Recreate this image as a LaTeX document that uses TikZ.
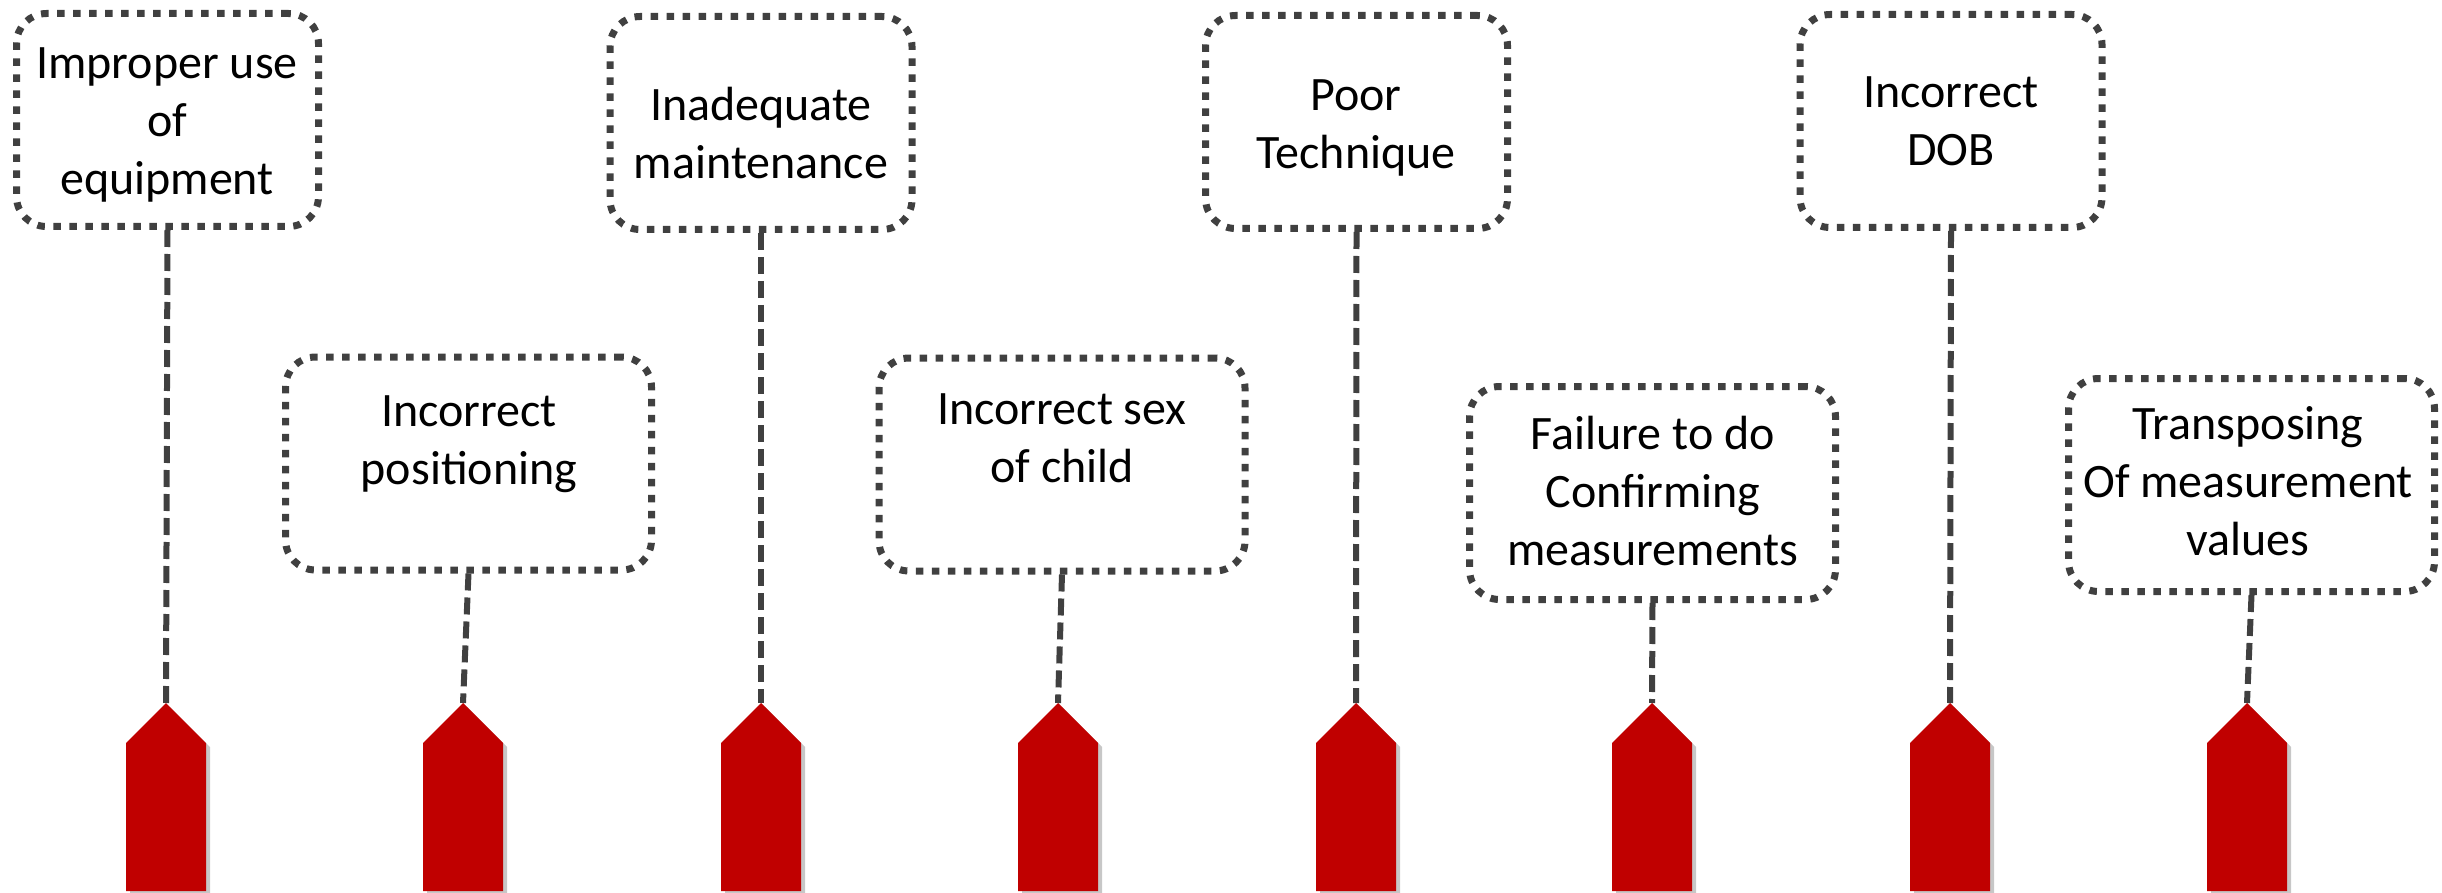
\documentclass[tikz,border=0pt]{standalone}
\usepackage{fontspec}
\setmainfont{Carlito}
\definecolor{dk}{RGB}{64,64,64}
\definecolor{rd}{RGB}{192,0,0}
\tikzset{
  box/.style={draw=dk, line width=7pt, dash pattern=on 7.5pt off 8.5pt, rounded corners=30pt, minimum height=213pt, inner sep=0pt},
  smallbox/.style={box, minimum width=302pt},
  bigbox/.style={box, minimum width=366pt},
  txt/.style={align=center, font=\fontsize{48}{58}\selectfont, inner sep=0pt, text=black},
  conn/.style={draw=dk, line width=6pt, dash pattern=on 17pt off 7pt},
  tag/.style={fill=rd},
  tagshadow/.style={fill=black!22}
}
\begin{document}
\begin{tikzpicture}[x=1pt,y=-1pt]
\useasboundingbox (0,0) rectangle (2442,893);
% boxes
\node[smallbox] (b1) at (167.5,120) {};
\node[bigbox]   (b2) at (468.5,463.5) {};
\node[smallbox] (b3) at (761,123) {};
\node[bigbox]   (b4) at (1062,464.5) {};
\node[smallbox] (b5) at (1356.5,122) {};
\node[bigbox]   (b6) at (1652.5,493) {};
\node[smallbox] (b7) at (1951,121) {};
\node[bigbox]   (b8) at (2251.5,485) {};
% texts
\node[txt] (t1) at (167,124.5) {Improper use\\of\\equipment};
\node[txt] (t2) at (469,444.5) {Incorrect\\positioning};
\node[txt] (t3) at (761,133) {Inadequate\\maintenance};
\node[txt] (t4) at (1062,438.5) {Incorrect sex\\of child};
\node[txt] (t5) at (1356,127.5) {Poor\\Technique};
\node[txt] (t6) at (1653,491.5) {Failure to do\\Confirming\\measurements};
\node[txt] (t7) at (1951,121.5) {Incorrect\\DOB};
\node[txt] (t8) at (2248,481) {Transposing\\Of measurement\\values};
% tags and connectors
\foreach \i/\x in {1/166,2/463,3/761,4/1058,5/1356,6/1652,7/1950,8/2247} {
  \coordinate (a\i) at (\x,703);
  \draw[conn] (b\i.south) -- (a\i);
  \fill[tagshadow] ([shift={(4,4)}]a\i) -- ++(40,40) -- ++(0,148) -- ++(-80,0) -- ++(0,-148) -- cycle;
  \fill[tag] (a\i) -- ++(40,40) -- ++(0,148) -- ++(-80,0) -- ++(0,-148) -- cycle;
}
\end{tikzpicture}
\end{document}
